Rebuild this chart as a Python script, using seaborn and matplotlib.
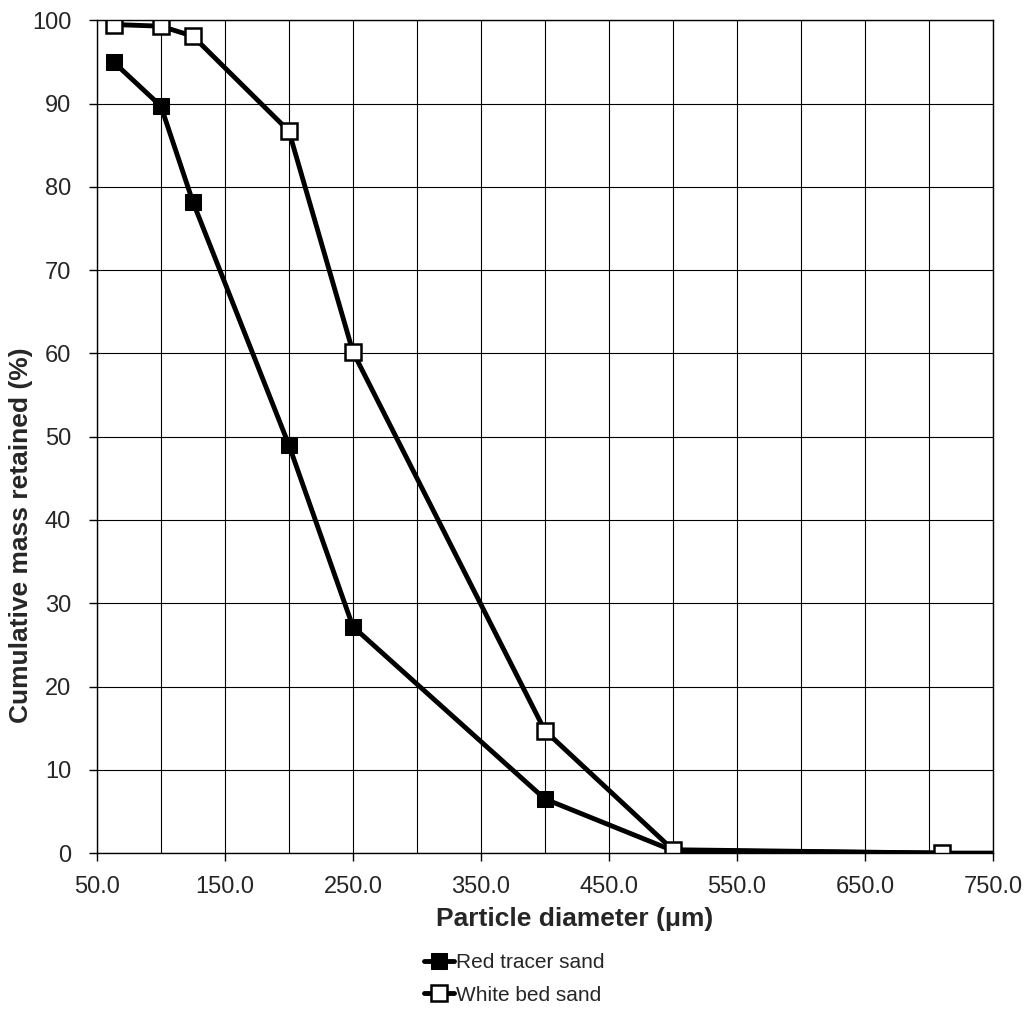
import numpy as np
import pandas as pd
import matplotlib
matplotlib.use("Agg")
import matplotlib.pyplot as plt
import seaborn as sns
from matplotlib.ticker import MultipleLocator, FormatStrFormatter

### data ###
red_diam = [63, 100, 125, 200, 250, 400, 500, 710, 1000]
red_cum = [95.0, 89.7, 78.2, 49.0, 27.2, 6.5, 0.3, 0.0, 0.0]
white_diam = [63, 100, 125, 200, 250, 400, 500, 710]
white_cum = [99.5, 99.3, 98.1, 86.7, 60.2, 14.7, 0.4, 0.0]

red_df = pd.DataFrame({'diam': red_diam, 'cum': red_cum})
white_df = pd.DataFrame({'diam': white_diam, 'cum': white_cum})

sns.set_style('white')
plt.rcParams['font.family'] = ['Liberation Sans', 'DejaVu Sans']

fig = plt.figure(figsize=(10.31, 10.18), dpi=100)
ax = fig.add_axes([0.094, 0.162, 0.869, 0.818])

sns.lineplot(data=red_df, x='diam', y='cum', ax=ax, color='black', lw=3.6,
             marker='s', markersize=12.5, markerfacecolor='black', markeredgecolor='black',
             label='Red tracer sand', sort=False)
sns.lineplot(data=white_df, x='diam', y='cum', ax=ax, color='black', lw=4.4,
             marker='s', markersize=14, markerfacecolor='white', markeredgecolor='black',
             markeredgewidth=1.8, label='White bed sand', sort=False)

ax.set_xlim(50, 750)
ax.set_ylim(0, 100)
ax.xaxis.set_major_locator(MultipleLocator(100, offset=50))
ax.xaxis.set_minor_locator(MultipleLocator(50))
ax.xaxis.set_major_formatter(FormatStrFormatter('%.1f'))
ax.yaxis.set_major_locator(MultipleLocator(10))
ax.grid(which='both', axis='x', color='black', lw=0.8)
ax.grid(which='major', axis='y', color='black', lw=0.8)
ax.tick_params(axis='both', which='major', direction='out', length=5.5, width=1,
               labelsize=17, color='black', bottom=True, left=True)
ax.tick_params(axis='x', which='major', pad=11)
ax.tick_params(axis='y', which='major', pad=13)
ax.tick_params(axis='x', which='minor', length=0)
for s in ax.spines.values():
    s.set_color('black')
    s.set_linewidth(1)
ax.set_axisbelow(True)

ax.set_xlabel('Particle diameter (μm)', fontsize=19, fontweight='bold')
ax.set_ylabel('Cumulative mass retained (%)', fontsize=19, fontweight='bold')
ax.xaxis.set_label_coords(0.533, -0.065)
ax.yaxis.set_label_coords(-0.071, 0.382)

ax.legend_.remove()
handles, labels = ax.get_legend_handles_labels()
for h in handles:
    h.set_markersize(11)
    h.set_linewidth(3.5)
fig.legend(handles, labels, loc='upper center', bbox_to_anchor=(0.499, 0.074), frameon=False,
           fontsize=15, handlelength=1.45, handletextpad=0.1, labelspacing=0.65, borderpad=0)

fig.savefig('out.png', dpi=100)
